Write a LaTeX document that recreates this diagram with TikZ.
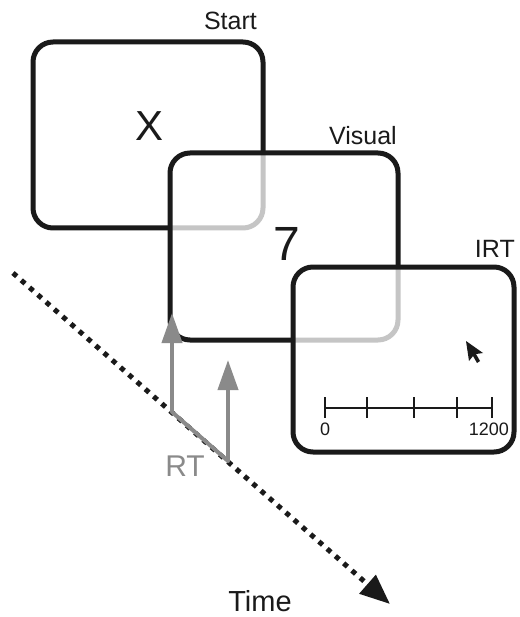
\documentclass[tikz,border=0pt]{standalone}
\usepackage{fontspec}
\setmainfont{Liberation Sans}
\usetikzlibrary{arrows.meta,calc}
\definecolor{ink}{HTML}{1A1A1A}
\definecolor{rtgray}{HTML}{8A8A8A}
\tikzset{
  screen/.style={draw=ink, line width=5pt, rounded corners=20pt, fill=white, fill opacity=0.75, draw opacity=1},
  lbl/.style={font=\fontsize{25}{28}\selectfont, text=ink, inner sep=0pt},
  big/.style={font=\fontsize{42}{46}\selectfont, text=ink, inner sep=0pt},
  rtarrow/.style={draw=rtgray, line width=4pt, -{Triangle[length=30pt,width=20pt]}},
  scaleln/.style={draw=ink, line width=2pt},
  ticklbl/.style={font=\fontsize{18}{20}\selectfont, text=ink, inner sep=0pt}
}
\begin{document}
\begin{tikzpicture}[x=1pt,y=-1pt]
\useasboundingbox (0,0) rectangle (519,617);
% screens
\draw[screen] (33,42) rectangle (263,228);
\node[lbl, anchor=base east] (start) at (257,30) {Start};
\node[big] (x) at (150,126) {X};
\draw[screen] (170,153) rectangle (398,340);
\node[lbl, anchor=base east] (visual) at (397,145) {Visual};
\node[big, font=\fontsize{48}{52}\selectfont] (seven) at (287,244) {7};
\draw[screen] (293,267) rectangle (514,452);
\node[lbl, anchor=base east] (irt) at (515,258) {IRT};
% scale
\coordinate (s0) at (325,408);
\coordinate (s1) at (492,408);
\draw[scaleln] (s0) -- (s1);
\foreach \xx in {325,367,414,457,492}{
  \draw[scaleln] (\xx,397) -- (\xx,418);
}
\node[ticklbl, anchor=base] (zero) at (325,435) {0};
\node[ticklbl, anchor=base east] (max) at (509,435) {1200};
% cursor
\fill[ink] (466,341) -- (469,361) -- (473,356) -- (477,363) -- (480,361) -- (476,354) -- (483,353) -- cycle;
% time line
\coordinate (t0) at (13,273);
\coordinate (t1) at (390,604);
\draw[ink, line width=5pt, dash pattern=on 5pt off 6pt, -{Triangle[length=30pt,width=24pt]}] (t0) -- (t1);
\node[lbl, font=\fontsize{29}{32}\selectfont, anchor=base] (time) at (260,611) {Time};
% RT arrows
\coordinate (a0) at ($(t0)!0.4218!(t1)$);
\coordinate (b0) at ($(t0)!0.5703!(t1)$);
\draw[rtgray, line width=4pt, line cap=round, line join=round] (a0 |- 0,412) -- (b0 |- 0,461);
\draw[rtarrow] (172,412) -- (172,313);
\draw[rtarrow] (228,461) -- (228,360);
\node[lbl, text=rtgray, font=\fontsize{30}{33}\selectfont] (rt) at (185,466) {RT};
\end{tikzpicture}
\end{document}
